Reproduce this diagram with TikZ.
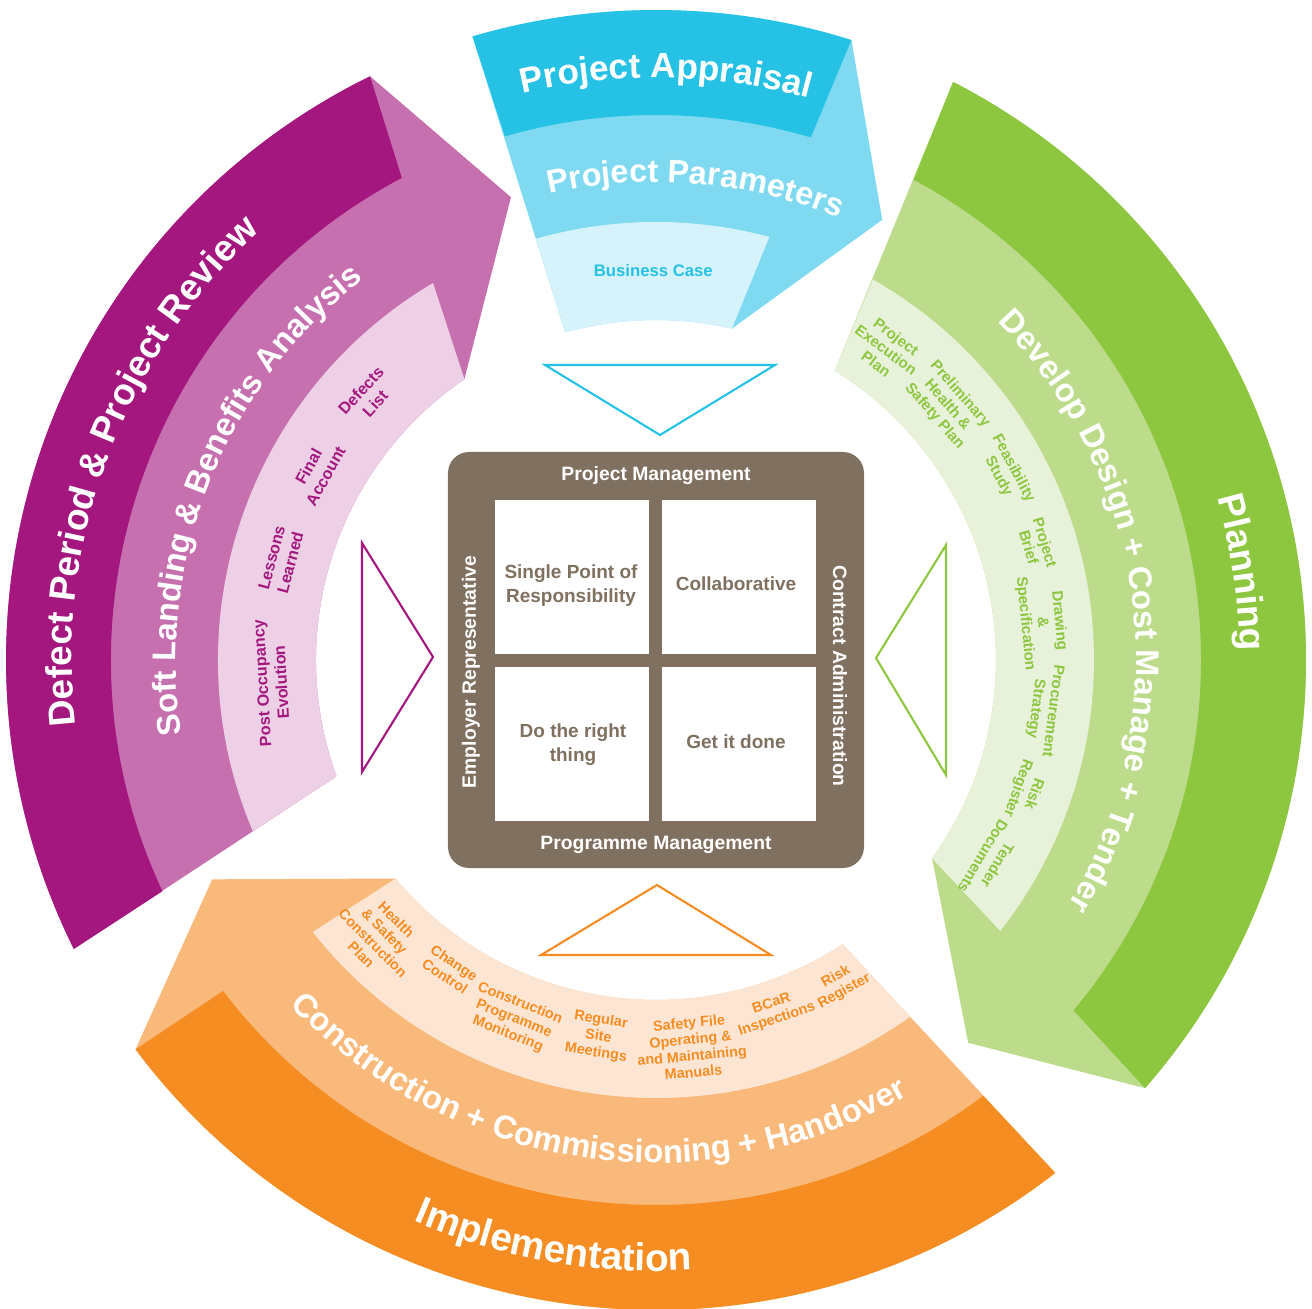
\documentclass[tikz,border=0pt]{standalone}
\usepackage{fontspec}
\setmainfont{Liberation Sans}
\usetikzlibrary{decorations.text}
\definecolor{apprdark}{HTML}{26C2E6}
\definecolor{apprmid}{HTML}{7FDAF1}
\definecolor{apprlight}{HTML}{D6F2FA}
\definecolor{plandark}{HTML}{8DC63F}
\definecolor{planmid}{HTML}{BCDC8C}
\definecolor{planlight}{HTML}{E8F2DA}
\definecolor{impldark}{HTML}{F68D22}
\definecolor{implmid}{HTML}{F8B97A}
\definecolor{impllight}{HTML}{FCE6D3}
\definecolor{revdark}{HTML}{A3177F}
\definecolor{revmid}{HTML}{C670B0}
\definecolor{revlight}{HTML}{EDD0E6}
\definecolor{corebrown}{HTML}{7F705F}
\newcommand{\arcfont}[1]{\bfseries\fontsize{#1}{#1}\selectfont\color{white}}
\begin{document}
\begin{tikzpicture}[x=0.01cm,y=0.01cm,
  arctext/.style={decorate,decoration={text along path,text align=center,text={#1}}},
  tri/.style={fill=white,line width=0.6pt},
  cell/.style={fill=white,minimum size=1.54cm,inner sep=0pt},
  celltext/.style={align=center,inner sep=0pt,text=corebrown,font=\bfseries\fontsize{5.4}{6.8}\selectfont},
  boxlbl/.style={text=white,inner sep=0pt,font=\bfseries\fontsize{5.5}{6.5}\selectfont},
  glbl/.style={text=plandark,align=center,inner sep=0pt,font=\bfseries\fontsize{4.3}{4.8}\selectfont},
  plbl/.style={text=revdark,align=center,inner sep=0pt,font=\bfseries\fontsize{4.6}{5.5}\selectfont},
  olbl/.style={text=impldark,align=center,inner sep=0pt,font=\bfseries\fontsize{4.1}{4.7}\selectfont}]
\useasboundingbox (-656,-649) rectangle (656,660);
%
\fill[apprmid] (106.4:650) arc[start angle=106.4,end angle=72.5,radius=650] -- (62.8:495) -- (77.1:340) arc[start angle=77.1,end angle=105.5,radius=340] -- cycle;
\fill[apprdark] (106.4:650) arc[start angle=106.4,end angle=72.5,radius=650] -- (73.5:545) arc[start angle=73.5,end angle=106.1,radius=545] -- cycle;
\fill[apprlight] (105.9:438) arc[start angle=105.9,end angle=75.0,radius=438] -- (77.1:340) arc[start angle=77.1,end angle=105.5,radius=340] -- cycle;
%
\fill[planmid] (62.8:650) arc[start angle=62.8,end angle=-41.2,radius=650] -- (-50.8:494) -- (-35.7:340) arc[start angle=-35.7,end angle=58.3,radius=340] -- cycle;
\fill[plandark] (62.8:650) arc[start angle=62.8,end angle=-41.2,radius=650] -- (-40.0:545) arc[start angle=-40.0,end angle=61.8,radius=545] -- cycle;
\fill[planlight] (60.3:438) arc[start angle=60.3,end angle=-38.2,radius=438] -- (-35.7:340) arc[start angle=-35.7,end angle=58.3,radius=340] -- cycle;
%
\fill[implmid] (307.9:650) arc[start angle=307.9,end angle=216.8,radius=650] -- (206.3:495) -- (220.0:340) arc[start angle=220.0,end angle=303.3,radius=340] -- cycle;
\fill[impldark] (307.9:650) arc[start angle=307.9,end angle=216.8,radius=650] -- (217.4:545) arc[start angle=217.4,end angle=306.9,radius=545] -- cycle;
\fill[impllight] (305.5:438) arc[start angle=305.5,end angle=218.4,radius=438] -- (220.0:340) arc[start angle=220.0,end angle=303.3,radius=340] -- cycle;
%
\fill[revmid] (206.4:650) arc[start angle=206.4,end angle=116.1,radius=650] -- (107.4:485) -- (124.3:340) arc[start angle=124.3,end angle=200.0,radius=340] -- cycle;
\fill[revdark] (206.4:650) arc[start angle=206.4,end angle=116.1,radius=650] -- (117.8:545) arc[start angle=117.8,end angle=205.1,radius=545] -- cycle;
\fill[revlight] (203.0:438) arc[start angle=203.0,end angle=120.6,radius=438] -- (124.3:340) arc[start angle=124.3,end angle=200.0,radius=340] -- cycle;
%
\path[arctext={|\arcfont{10}|Project Appraisal}] (130:582) arc[start angle=130,end angle=48,radius=582];
\path[arctext={|\arcfont{9.2}|Project Parameters}] (130.2:478) arc[start angle=130.2,end angle=40.2,radius=478];
\node[text=apprdark,font=\bfseries\fontsize{4.75}{5}\selectfont] (bcase) at (90.4:389) {Business Case};
%
\path[arctext={|\arcfont{10.5}|Planning}] (53.5:584) arc[start angle=53.5,end angle=-36.5,radius=584];
\path[arctext={|\arcfont{9.3}|Develop Design + Cost Manage + Tender}] (52:480) arc[start angle=52,end angle=-38,radius=480];
\node[glbl,rotate=-36.6] (gpep) at (53.4:386) {Project\\Execution\\Plan};
\node[glbl,rotate=-48.8] (gphs) at (41.2:387) {Preliminary\\Health \&\\Safety Plan};
\node[glbl,rotate=-61.8] (gfeas) at (28.2:397) {Feasibility\\Study};
\node[glbl,rotate=-73.2] (gbrief) at (16.8:398) {Project\\Brief};
\node[glbl,rotate=-84.4] (gspec) at (5.6:388) {Drawing\\\&\\Specification};
\node[glbl,rotate=-97.3] (gproc) at (-7.3:391) {Procurement\\Strategy};
\node[glbl,rotate=-109.5] (grisk) at (-19.5:392) {Risk\\Register};
\node[glbl,rotate=-121] (gtend) at (-31:390) {Tender\\Documents};
%
\path[arctext={|\arcfont{11}|Implementation}] (225:611) arc[start angle=225,end angle=295,radius=611];
\path[arctext={|\arcfont{9.3}|Construction + Commissioning + Handover}] (214.7:503) arc[start angle=214.7,end angle=308.7,radius=503];
\node[olbl,rotate=-45] (ohs) at (225.0:392) {Health\\\& Safety\\Construction\\Plan};
\node[olbl,rotate=-33.7] (occ) at (236.3:372) {Change\\Control};
\node[olbl,rotate=-21.6] (ocpm) at (248.4:386) {Construction\\Programme\\Monitoring};
\node[olbl,rotate=-8.7] (orsm) at (261.3:381) {Regular\\Site\\Meetings};
\node[olbl,rotate=5.2] (osf) at (275.2:389) {Safety File\\Operating \&\\and Maintaining\\Manuals};
\node[olbl,rotate=18.6] (obcar) at (288.6:371) {BCaR\\Inspections};
\node[olbl,rotate=29.6] (orisk) at (299.6:373) {Risk\\Register};
%
\path[arctext={|\arcfont{10.5}|Defect Period {\&} Project Review}] (204.6:584) arc[start angle=204.6,end angle=114.6,radius=584];
\path[arctext={|\arcfont{9.3}|Soft Landing {\&} Benefits Analysis}] (203.2:480) arc[start angle=203.2,end angle=113.2,radius=480];
\node[plbl,rotate=93.4] (ppoe) at (183.4:385) {Post Occupancy\\Evolution};
\node[plbl,rotate=75.1] (pll) at (165.1:388) {Lessons\\Learned};
\node[plbl,rotate=60.9] (pfa) at (150.9:388) {Final\\Account};
\node[plbl,rotate=47.6] (pdl) at (137.6:390) {Defects\\List};
%
\draw[tri,draw=apprdark] (-111,295) -- (119,295) -- (4,225) -- cycle;
\draw[tri,draw=revdark] (-294,117) -- (-294,-112) -- (-223,3) -- cycle;
\draw[tri,draw=plandark] (290,115) -- (290,-115) -- (220,2) -- cycle;
\draw[tri,draw=impldark] (-115,-295) -- (115,-295) -- (1,-225) -- cycle;
%
\fill[corebrown,rounded corners=6pt] (-208,208) rectangle (208,-208);
\node[cell] (spr) at (-84,83) {};
\node[cell] (collab) at (83,83) {};
\node[cell] (dright) at (-84,-84) {};
\node[cell] (gdone) at (83,-84) {};
\node[celltext] (sprt) at (-85,74) {Single Point of\\Responsibility};
\node[celltext] (collabt) at (80,76) {Collaborative};
\node[celltext] (drightt) at (-83,-85) {Do the right\\thing};
\node[celltext] (gdonet) at (80,-82) {Get it done};
\node[boxlbl] (pm) at (0,184) {Project Management};
\node[boxlbl] (progm) at (0,-185) {Programme Management};
\node[boxlbl,rotate=90] (emp) at (-185,-12) {Employer Representative};
\node[boxlbl,rotate=-90] (ca) at (184,-16) {Contract Administration};
\end{tikzpicture}
\end{document}
